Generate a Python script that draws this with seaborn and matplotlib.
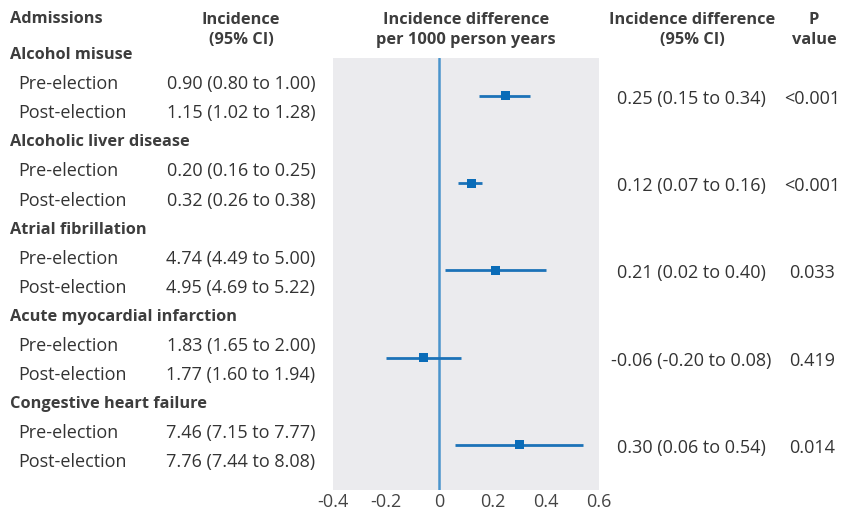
import numpy as np
import pandas as pd
import seaborn as sns
import matplotlib.pyplot as plt
import matplotlib.transforms as mtransforms

groups = ["Alcohol misuse", "Alcoholic liver disease", "Atrial fibrillation",
          "Acute myocardial infarction", "Congestive heart failure"]
pre_inc = [0.90, 0.20, 4.74, 1.83, 7.46]
pre_lo = [0.80, 0.16, 4.49, 1.65, 7.15]
pre_hi = [1.00, 0.25, 5.00, 2.00, 7.77]
post_inc = [1.15, 0.32, 4.95, 1.77, 7.76]
post_lo = [1.02, 0.26, 4.69, 1.60, 7.44]
post_hi = [1.28, 0.38, 5.22, 1.94, 8.08]
diff = [0.25, 0.12, 0.21, -0.06, 0.30]
diff_lo = [0.15, 0.07, 0.02, -0.20, 0.06]
diff_hi = [0.34, 0.16, 0.40, 0.08, 0.54]
p_values = ["<0.001", "<0.001", "0.033", "0.419", "0.014"]
x_ticks = [-0.4, -0.2, 0, 0.2, 0.4, 0.6]
x_labels = ["-0.4", "-0.2", "0", "0.2", "0.4", "0.6"]

sns.set_style("white")
plt.rcParams['font.family'] = ['Open Sans', 'DejaVu Sans']
plt.rcParams['axes.unicode_minus'] = False

W, H = 842, 513
fig = plt.figure(figsize=(W / 100, H / 100), dpi=100)
ax = fig.add_axes([333 / W, 1 - 490 / H, 266 / W, 432 / H])
ax.set_facecolor("#ebebee")
for s in ax.spines.values():
    s.set_visible(False)

df = pd.DataFrame({"group": groups, "diff": diff, "lo": diff_lo, "hi": diff_hi})
df["row"] = np.arange(len(groups)) * 3 + 1.5

ax.axvline(0, color="#4a94cc", lw=1.8, zorder=1)
ax.hlines(df["row"], df["lo"], df["hi"], color="#1c72b8", lw=2, zorder=2)
sns.scatterplot(data=df, x="diff", y="row", marker="s", s=42, color="#0a6cb8",
                edgecolor="none", ax=ax, zorder=3, legend=False)

ax.set_xlim(-0.4, 0.6)
ax.set_ylim(15.05, 0.2)
ax.set_yticks([])
ax.set_xticks(x_ticks)
ax.set_xticklabels(x_labels, fontsize=13, color="#444444")
ax.tick_params(axis="x", direction="in", length=5, width=1.5, color="white", pad=2)
ax.set_xlabel("")
ax.set_ylabel("")

tr = mtransforms.blended_transform_factory(fig.transFigure, ax.transData)
fs = 13
fb = 11.8
tc = "#333333"
bc = "#3d3d3d"
off = 0.1

def fx(px):
    return px / W

def fy(py):
    return 1 - py / H

# headers
hdr = dict(fontsize=fb, fontweight="bold", color=bc, va="center")
fig.text(fx(10), fy(19), "Admissions", ha="left", **hdr)
fig.text(fx(241), fy(30), "Incidence\n(95% CI)", ha="center", linespacing=1.3, **hdr)
fig.text(fx(466), fy(30), "Incidence difference\nper 1000 person years", ha="center", linespacing=1.3, **hdr)
fig.text(fx(692), fy(30), "Incidence difference\n(95% CI)", ha="center", linespacing=1.3, **hdr)
fig.text(fx(814), fy(30), "P\nvalue", ha="center", linespacing=1.3, **hdr)

for i, g in enumerate(groups):
    r = i * 3 + off
    fig.text(fx(10), r, g, transform=tr, ha="left", va="center", fontsize=fb,
             fontweight="bold", color=bc)
    fig.text(fx(18), r + 1, "Pre-election", transform=tr, ha="left", va="center",
             fontsize=fs, color=tc)
    fig.text(fx(18), r + 2, "Post-election", transform=tr, ha="left", va="center",
             fontsize=fs, color=tc)
    fig.text(fx(241), r + 1, f"{pre_inc[i]:.2f} ({pre_lo[i]:.2f} to {pre_hi[i]:.2f})",
             transform=tr, ha="center", va="center", fontsize=fs, color=tc)
    fig.text(fx(241), r + 2, f"{post_inc[i]:.2f} ({post_lo[i]:.2f} to {post_hi[i]:.2f})",
             transform=tr, ha="center", va="center", fontsize=fs, color=tc)
    fig.text(fx(691), r + 1.5, f"{diff[i]:.2f} ({diff_lo[i]:.2f} to {diff_hi[i]:.2f})",
             transform=tr, ha="center", va="center", fontsize=fs, color=tc)
    fig.text(fx(812), r + 1.5, p_values[i], transform=tr, ha="center", va="center",
             fontsize=fs, color=tc)

fig.savefig("out.png", dpi=100)
